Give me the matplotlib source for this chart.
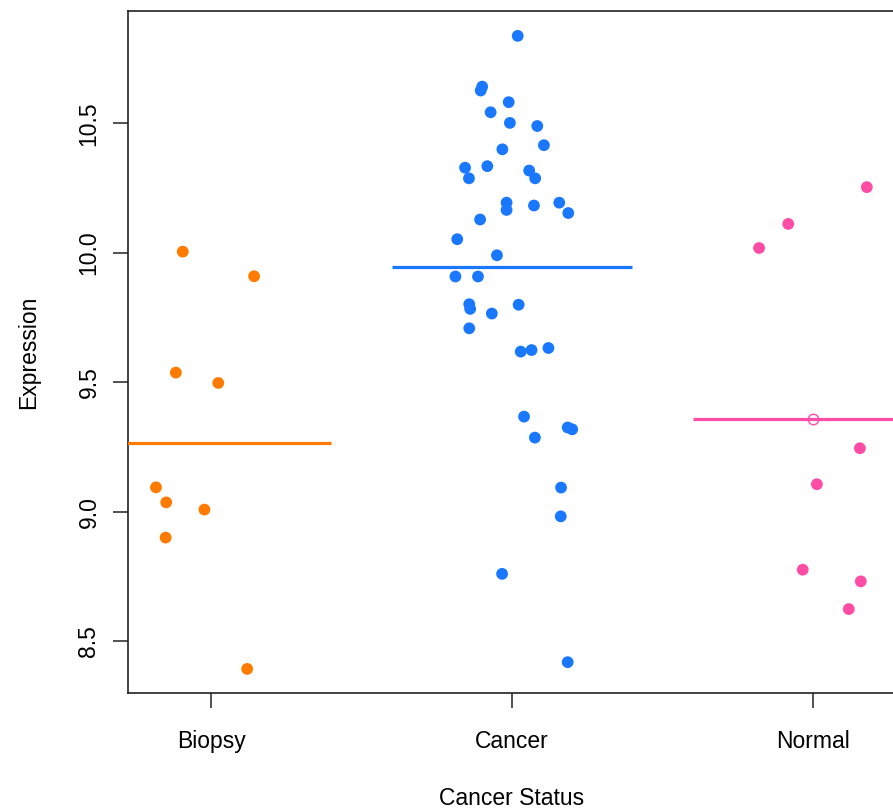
import matplotlib
matplotlib.use("Agg")
import matplotlib.pyplot as plt
import numpy as np

plt.rcParams['font.family'] = ['Liberation Sans', 'DejaVu Sans']

### Data ###

groups = ["Biopsy", "Cancer", "Normal"]
colors = ["#FF7B00", "#1A78FF", "#FF4DA6"]

biopsy_expr = [10.005, 9.910, 9.538, 9.498, 9.095, 9.037, 9.009, 8.901, 8.394]
biopsy_jitter = [-0.094, 0.143, -0.117, 0.024, -0.183, -0.149, -0.022, -0.151, 0.120]

cancer_expr = [10.838, 10.642, 10.627, 10.582, 10.543, 10.502, 10.490, 10.416,
               10.400, 10.329, 10.288, 10.335, 10.318, 10.288, 10.194, 10.166,
               10.183, 10.194, 10.154, 10.129, 10.053, 9.991, 9.909, 9.909,
               9.802, 9.784, 9.766, 9.800, 9.709, 9.619, 9.625, 9.633,
               9.368, 9.326, 9.319, 9.287, 9.094, 8.983, 8.761, 8.420]
cancer_jitter = [0.019, -0.099, -0.104, -0.011, -0.071, -0.007, 0.084, 0.106,
                 -0.032, -0.156, -0.143, -0.082, 0.057, 0.077, -0.018, -0.018,
                 0.073, 0.157, 0.187, -0.106, -0.182, -0.050, -0.188, -0.113,
                 -0.142, -0.139, -0.067, 0.022, -0.142, 0.029, 0.065, 0.121,
                 0.040, 0.185, 0.200, 0.076, 0.163, 0.162, -0.033, 0.185]

normal_expr = [10.254, 10.112, 10.019, 9.246, 9.107, 8.777, 8.732, 8.625]
normal_jitter = [0.179, -0.082, -0.179, 0.156, 0.013, -0.034, 0.159, 0.119]

y_ticks = [8.5, 9.0, 9.5, 10.0, 10.5]

### Plot ###

fig = plt.figure(figsize=(8.93, 8.09), dpi=100)
ax = fig.add_axes([128 / 893, 116 / 809, 768 / 893, 682 / 809])

all_expr = [biopsy_expr, cancer_expr, normal_expr]
all_jitter = [biopsy_jitter, cancer_jitter, normal_jitter]

for i, (vals, jit, col) in enumerate(zip(all_expr, all_jitter, colors)):
    pos = i + 1
    ax.scatter(pos + np.array(jit), vals, s=72, color=col, edgecolors='none', zorder=3)
    m = np.mean(vals)
    ax.hlines(m, pos - 0.4, pos + 0.4, color=col, linewidth=2.3, zorder=4)

# open circle marking the Normal mean
ax.plot([3], [np.mean(normal_expr)], marker='o', markersize=7.5, markerfacecolor='none',
        markeredgecolor=colors[2], markeredgewidth=1.0, zorder=5)

ax.set_xlim(0.724, 3.276)
ax.set_ylim(8.301, 10.934)
ax.set_xticks([1, 2, 3])
ax.set_xticklabels(groups)
ax.set_yticks(y_ticks)
ax.set_yticklabels([f"{t:.1f}" for t in y_ticks], rotation=90, va='center')

for sp in ax.spines.values():
    sp.set_linewidth(1.2)
    sp.set_color("#222222")

ax.tick_params(axis='both', length=10.8, width=1.1, color="#222222", labelsize=16.5)
ax.tick_params(axis='x', pad=15.5)
ax.tick_params(axis='y', pad=9)
ax.set_xlabel("Cancer Status", fontsize=16.5, labelpad=25)
ax.set_ylabel("Expression", fontsize=16.5, labelpad=27)

fig.savefig("out.png", dpi=100)
